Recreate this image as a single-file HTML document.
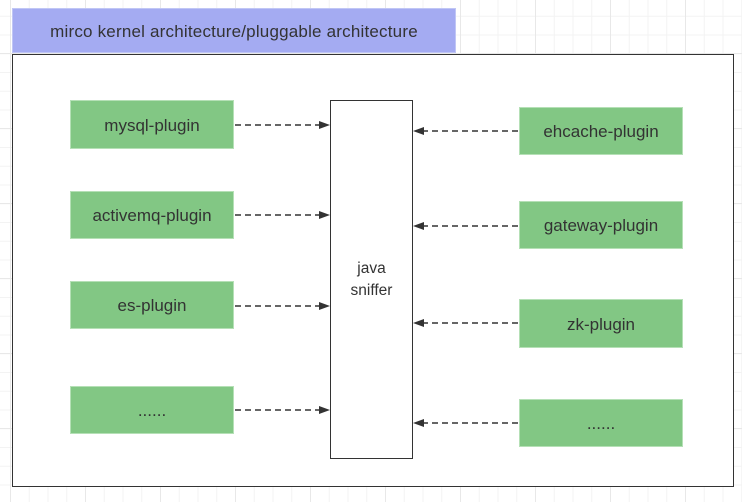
<!DOCTYPE html>
<html><head><style>
html,body{margin:0;padding:0;}
body{width:742px;height:502px;position:relative;overflow:hidden;background-color:#fff;
background-image:linear-gradient(to right,#e8e8e8 1px,transparent 1px),linear-gradient(to bottom,#e8e8e8 1px,transparent 1px),linear-gradient(to right,#f3f3f3 1px,transparent 1px),linear-gradient(to bottom,#f3f3f3 1px,transparent 1px);
background-size:75px 75px,75px 75px,18.75px 18.75px,18.75px 18.75px;
background-position:10px -22px,10px -22px,10px -3px,10px -3px;
font-family:"Liberation Sans",sans-serif;}
.t{position:absolute;left:12px;top:8px;width:444px;height:45px;background:#a4abf2;border:1px solid #c0c6f5;box-sizing:border-box;color:#333;font-size:17px;line-height:45px;text-align:center;letter-spacing:0.2px;}
.f{position:absolute;left:12px;top:54px;width:722px;height:433px;border:1.5px solid #333;box-sizing:border-box;background:#fff;}
.g{position:absolute;width:164px;background:#82c784;border:1px solid #b5e0b6;box-sizing:border-box;color:#333;font-size:17px;text-align:center;}
.c{position:absolute;left:330px;top:100px;width:83px;height:359px;border:1.5px solid #333;box-sizing:border-box;background:#fff;color:#333;font-size:15.5px;text-align:center;padding-top:157px;line-height:22px;}
svg{position:absolute;left:0;top:0;}
</style></head><body>
<div class="t">mirco kernel architecture/pluggable architecture</div>
<div class="f"></div>
<div class="g" style="left:70px;top:100px;height:49px;line-height:49px">mysql-plugin</div>
<div class="g" style="left:70px;top:191px;height:48px;line-height:48px">activemq-plugin</div>
<div class="g" style="left:70px;top:281px;height:48px;line-height:48px">es-plugin</div>
<div class="g" style="left:70px;top:386px;height:48px;line-height:48px">......</div>
<div class="g" style="left:519px;top:107px;height:48px;line-height:48px">ehcache-plugin</div>
<div class="g" style="left:519px;top:201px;height:48px;line-height:48px">gateway-plugin</div>
<div class="g" style="left:519px;top:299px;height:49px;line-height:49px">zk-plugin</div>
<div class="g" style="left:519px;top:399px;height:48px;line-height:48px">......</div>
<div class="c">java<br>sniffer</div>
<svg width="742" height="502">
<g stroke="#333" stroke-width="1.5" stroke-dasharray="6,4" fill="none">
<line x1="235" y1="125" x2="320" y2="125"/>
<line x1="235" y1="215" x2="320" y2="215"/>
<line x1="235" y1="306" x2="320" y2="306"/>
<line x1="235" y1="410" x2="320" y2="410"/>
<line x1="518" y1="131" x2="423" y2="131"/>
<line x1="518" y1="226" x2="423" y2="226"/>
<line x1="518" y1="323" x2="423" y2="323"/>
<line x1="518" y1="423" x2="423" y2="423"/>
</g>
<g fill="#333">
<polygon points="330,125 319,121 319,129"/>
<polygon points="330,215 319,211 319,219"/>
<polygon points="330,306 319,302 319,310"/>
<polygon points="330,410 319,406 319,414"/>
<polygon points="413,131 424,127 424,135"/>
<polygon points="413,226 424,222 424,230"/>
<polygon points="413,323 424,319 424,327"/>
<polygon points="413,423 424,419 424,427"/>
</g>
</svg>
</body></html>
